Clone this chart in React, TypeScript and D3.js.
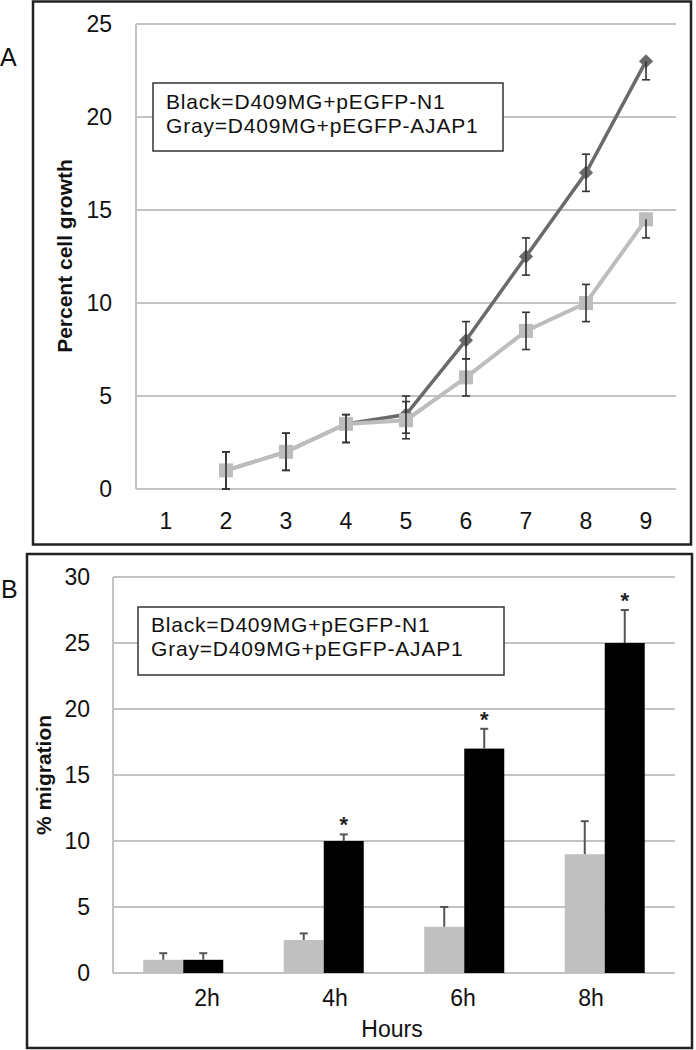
import React from "react";
import * as d3 from "d3";

const growthDays = ["1", "2", "3", "4", "5", "6", "7", "8", "9"];
const blackGrowth = [null, 1, 2, 3.5, 4, 8, 12.5, 17, 23];
const blackUp = [null, 1, 1, 0.5, 1, 1, 1, 1, 0];
const blackDown = [null, 1, 1, 1, 1, 1, 1, 1, 1];
const grayGrowth = [null, 1, 2, 3.5, 3.7, 6, 8.5, 10, 14.5];
const grayUp = [null, 1, 1, 0.5, 1, 1, 1, 1, 0];
const grayDown = [null, 1, 1, 1, 1, 1, 1, 1, 1];
const growthTicks = [0, 5, 10, 15, 20, 25];

const hours = ["2h", "4h", "6h", "8h"];
const grayMigration = [1, 2.5, 3.5, 9];
const grayMigErr = [0.5, 0.5, 1.5, 2.5];
const blackMigration = [1, 10, 17, 25];
const blackMigErr = [0.5, 0.5, 1.5, 2.5];
const significant = [false, true, true, true];
const migrationTicks = [0, 5, 10, 15, 20, 25, 30];

const legendLines = ["Black=D409MG+pEGFP-N1", "Gray=D409MG+pEGFP-AJAP1"];

const FONT = "'Liberation Sans', Arial, sans-serif";
const GRID = "#c3c3c3";
const DARK = "#6a6a6a";
const LIGHT = "#bdbdbd";
const ERR = "#333";

export default function App() {
  // Panel A scales
  const xA = d3.scaleBand<string>().domain(growthDays).range([136, 676]);
  const yA = d3.scaleLinear().domain([0, 25]).range([489, 24]);
  const cxA = (i: number) => (xA(growthDays[i]) as number) + xA.bandwidth() / 2;

  const lineGen = (vals: (number | null)[]) =>
    d3
      .line<number | null>()
      .defined((d) => d != null)
      .x((_, i) => cxA(i))
      .y((d) => yA(d as number))(vals) as string;

  // Panel B scales
  const xB = d3.scaleBand<string>().domain(hours).range([113, 675]);
  const xBL = d3.scaleBand<string>().domain(hours).range([143, 655]);
  const yB = d3.scaleLinear().domain([0, 30]).range([973, 577]);
  const barW = 40;

  const errA = (
    vals: (number | null)[],
    up: (number | null)[],
    down: (number | null)[],
    key: string
  ) =>
    vals.map((v, i) => {
      if (v == null) return null;
      const x = cxA(i);
      const top = yA(v + (up[i] as number));
      const bot = yA(v - (down[i] as number));
      return (
        <g key={key + i} stroke={ERR} strokeWidth={1.6}>
          <line x1={x} x2={x} y1={top} y2={bot} />
          {(up[i] as number) > 0 && <line x1={x - 4} x2={x + 4} y1={top} y2={top} />}
          <line x1={x - 4} x2={x + 4} y1={bot} y2={bot} />
        </g>
      );
    });

  return (
    <svg
      width={696}
      height={1050}
      style={{ position: "absolute", left: 0, top: 0, background: "#fff" }}
      fontFamily={FONT}
    >
      <rect x={0} y={0} width={696} height={1050} fill="#fff" />
      {/* ---------- Panel A ---------- */}
      <rect x={33} y={1.5} width={658} height={543} fill="none" stroke="#222" strokeWidth={2.5} />
      <text x={0} y={66} fontSize={25} fill="#111">A</text>
      {growthTicks.map((t) => (
        <g key={"ga" + t}>
          <line x1={136} x2={676} y1={yA(t)} y2={yA(t)} stroke={GRID} strokeWidth={2} />
          <text x={112} y={yA(t) + 8} fontSize={23} textAnchor="end" fill="#111">
            {t}
          </text>
        </g>
      ))}
      <line x1={136} x2={136} y1={yA(25)} y2={yA(0)} stroke={GRID} strokeWidth={2} />
      {growthDays.map((d, i) => (
        <text key={"xa" + d} x={cxA(i)} y={529} fontSize={23} textAnchor="middle" fill="#111">
          {d}
        </text>
      ))}
      <text
        transform={`translate(72,256) rotate(-90)`}
        fontSize={21}
        fontWeight="bold"
        textAnchor="middle"
        fill="#111"
      >
        Percent cell growth
      </text>
      {/* legend A */}
      <rect x={153} y={83} width={350} height={68} fill="#fff" stroke="#333" strokeWidth={1.5} />
      {legendLines.map((l, i) => (
        <text
          key={"la" + i}
          x={166}
          y={109 + i * 24}
          fontSize={21}
          letterSpacing={0.8}
          fill="#111"
        >
          {l}
        </text>
      ))}
      {/* black series */}
      <path d={lineGen(blackGrowth)} fill="none" stroke={DARK} strokeWidth={3.5} />
      {blackGrowth.map((v, i) =>
        v == null ? null : (
          <rect
            key={"bd" + i}
            x={-5}
            y={-5}
            width={10}
            height={10}
            fill={DARK}
            transform={`translate(${cxA(i)},${yA(v)}) rotate(45)`}
          />
        )
      )}
      {errA(blackGrowth, blackUp, blackDown, "eb")}
      {/* gray series */}
      <path d={lineGen(grayGrowth)} fill="none" stroke={LIGHT} strokeWidth={4} />
      {grayGrowth.map((v, i) =>
        v == null ? null : (
          <rect key={"gs" + i} x={cxA(i) - 7} y={yA(v) - 7} width={14} height={14} fill={LIGHT} />
        )
      )}
      {errA(grayGrowth, grayUp, grayDown, "eg")}

      {/* ---------- Panel B ---------- */}
      <rect x={27} y={554} width={665} height={494} fill="none" stroke="#222" strokeWidth={2.5} />
      <text x={1} y={598} fontSize={25} fill="#111">B</text>
      {migrationTicks.map((t) => (
        <g key={"gb" + t}>
          <line x1={113} x2={675} y1={yB(t)} y2={yB(t)} stroke={GRID} strokeWidth={2} />
          <text x={90} y={yB(t) + 8} fontSize={23} textAnchor="end" fill="#111">
            {t}
          </text>
        </g>
      ))}
      <line x1={113} x2={113} y1={yB(30)} y2={yB(0)} stroke={GRID} strokeWidth={2} />
      <text
        transform={`translate(51,775) rotate(-90)`}
        fontSize={21}
        fontWeight="bold"
        textAnchor="middle"
        fill="#111"
      >
        % migration
      </text>
      {/* legend B */}
      <rect x={138} y={607} width={366} height={68} fill="#fff" stroke="#333" strokeWidth={1.5} />
      {legendLines.map((l, i) => (
        <text
          key={"lb" + i}
          x={151}
          y={632 + i * 24}
          fontSize={21}
          letterSpacing={0.8}
          fill="#111"
        >
          {l}
        </text>
      ))}
      {hours.map((h, i) => {
        const c = (xB(h) as number) + xB.bandwidth() / 2;
        const gTop = yB(grayMigration[i]);
        const gErr = yB(grayMigration[i] + grayMigErr[i]);
        const bTop = yB(blackMigration[i]);
        const bErr = yB(blackMigration[i] + blackMigErr[i]);
        return (
          <g key={"bar" + h}>
            <rect x={c - barW} y={gTop} width={barW} height={yB(0) - gTop} fill="#c0c0c0" />
            <rect x={c} y={bTop} width={barW} height={yB(0) - bTop} fill="#000" />
            <g stroke="#555" strokeWidth={2}>
              <line x1={c - barW / 2} x2={c - barW / 2} y1={gTop} y2={gErr} />
              <line x1={c - barW / 2 - 4} x2={c - barW / 2 + 4} y1={gErr} y2={gErr} />
              <line x1={c + barW / 2} x2={c + barW / 2} y1={bTop} y2={bErr} />
              <line x1={c + barW / 2 - 4} x2={c + barW / 2 + 4} y1={bErr} y2={bErr} />
            </g>
            {significant[i] && (
              <text
                x={c + barW / 2}
                y={bErr - 2}
                fontSize={22}
                fontWeight="bold"
                textAnchor="middle"
                fill="#222"
              >
                *
              </text>
            )}
          </g>
        );
      })}
      {hours.map((h) => (
        <text
          key={"xb" + h}
          x={(xBL(h) as number) + xBL.bandwidth() / 2}
          y={1006}
          fontSize={23}
          textAnchor="middle"
          fill="#111"
        >
          {h}
        </text>
      ))}
      <text x={392} y={1037} fontSize={23} textAnchor="middle" fill="#111">
        Hours
      </text>
    </svg>
  );
}
